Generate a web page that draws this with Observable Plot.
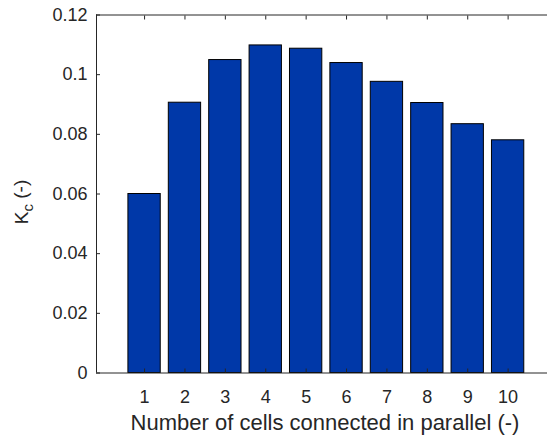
<!DOCTYPE html>
<html>
<head>
<meta charset="utf-8">
<script src="https://cdn.jsdelivr.net/npm/d3@7"></script>
<script src="https://cdn.jsdelivr.net/npm/@observablehq/plot@0.6"></script>
<style>
  html, body { margin: 0; padding: 0; background: #fff; }
  #chart svg { display: block; }
</style>
</head>
<body>
<div id="chart"></div>
<script>
const cells = [1, 2, 3, 4, 5, 6, 7, 8, 9, 10];
const kc = [0.0600, 0.0906, 0.1049, 0.1098, 0.1087, 0.1039, 0.0976, 0.0905, 0.0834, 0.0780];
const xTicks = [1, 2, 3, 4, 5, 6, 7, 8, 9, 10];
const yTicks = [0, 0.02, 0.04, 0.06, 0.08, 0.1, 0.12];
const yTickLabels = ["0", "0.02", "0.04", "0.06", "0.08", "0.1", "0.12"];
const xLabel = "Number of cells connected in parallel (-)";
const yLabelMain = "K";
const yLabelSub = "c";
const yLabelRest = " (-)";

const data = cells.map((n, i) => ({n, v: kc[i]}));
const barHalf = 0.4;
const axisColor = "#262626";

const plot = Plot.plot({
  width: 547,
  height: 436,
  marginLeft: 96,
  marginRight: 0,
  marginTop: 14.5,
  marginBottom: 63.5,
  style: {fontFamily: "'Liberation Sans', Arial, sans-serif", fontSize: "18px", color: axisColor, background: "#fff"},
  x: {type: "linear", domain: [-0.19, 10.975]},
  y: {domain: [0, 0.12]},
  marks: [
    Plot.rect(data, {x1: d => d.n - barHalf, x2: d => d.n + barHalf, y1: 0, y2: "v", fill: "#0038A8", stroke: "#000", strokeWidth: 1}),
    Plot.ruleY([0, 0.12], {stroke: axisColor, strokeWidth: 1}),
    Plot.ruleX([-0.19], {stroke: axisColor, strokeWidth: 1}),
    Plot.axisX({anchor: "bottom", ticks: xTicks, tickSize: -4, tickPadding: 21, tickFormat: d => String(d), label: null, stroke: axisColor}),
    Plot.axisX({anchor: "top", ticks: xTicks, tickSize: -4, tickFormat: () => "", label: null, stroke: axisColor}),
    Plot.axisY({anchor: "left", ticks: yTicks, tickSize: -4, tickPadding: 13, tickFormat: d => yTickLabels[yTicks.indexOf(d)], label: null, stroke: axisColor})
  ]
});

document.getElementById("chart").appendChild(plot);

const svg = d3.select(plot);
svg.append("text")
  .attr("x", 325)
  .attr("y", 430)
  .attr("text-anchor", "middle")
  .attr("font-size", "22px")
  .attr("fill", axisColor)
  .text(xLabel);

const yl = svg.append("text")
  .attr("transform", "translate(28,202) rotate(-90)")
  .attr("text-anchor", "middle")
  .attr("font-size", "19px")
  .attr("fill", axisColor);
yl.append("tspan").text(yLabelMain);
yl.append("tspan").attr("dy", "0.3em").attr("font-size", "15px").text(yLabelSub);
yl.append("tspan").attr("dy", "-0.3em").text(yLabelRest);
</script>
</body>
</html>
